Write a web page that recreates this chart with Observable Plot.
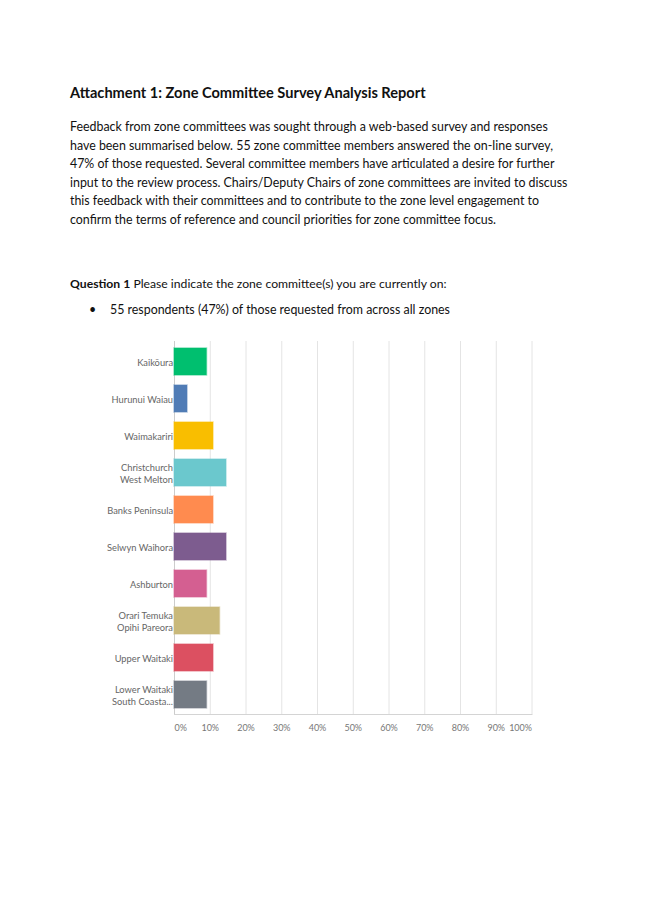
<!DOCTYPE html>
<html>
<head>
<meta charset="utf-8">
<script src="https://cdn.jsdelivr.net/npm/d3@7"></script>
<script src="https://cdn.jsdelivr.net/npm/@observablehq/plot@0.6"></script>
<style>
  html, body { margin: 0; padding: 0; background: #fff; }
  body { width: 645px; height: 919px; position: relative; overflow: hidden; font-family: Lato, "Open Sans", sans-serif; color: #111; }
  .t { position: absolute; white-space: nowrap; }
  #title { left: 70px; top: 84px; font-weight: 700; font-size: 14.6px; }
  #body { left: 70px; top: 118px; font-size: 12.4px; line-height: 18.5px; }
  #q1 { left: 70px; top: 276px; font-size: 12.2px; }
  #bullet { left: 110px; top: 302px; font-size: 12.4px; }
  #dot { left: 89px; top: 302px; font-size: 12.4px; }
  #chart { position: absolute; left: 100px; top: 330px; }
</style>
</head>
<body>
<div class="t" id="title">Attachment 1: Zone Committee Survey Analysis Report</div>
<div class="t" id="body">Feedback from zone committees was sought through a web-based survey and responses<br>have been summarised below. 55 zone committee members answered the on-line survey,<br>47% of those requested. Several committee members have articulated a desire for further<br>input to the review process. Chairs/Deputy Chairs of zone committees are invited to discuss<br>this feedback with their committees and to contribute to the zone level engagement to<br>confirm the terms of reference and council priorities for zone committee focus.</div>
<div class="t" id="q1"><b>Question 1</b> Please indicate the zone committee(s) you are currently on:</div>
<div class="t" id="dot">•</div>
<div class="t" id="bullet">55 respondents (47%) of those requested from across all zones</div>
<div id="chart"></div>
<script>
const zones = ["Kaikōura", "Hurunui Waiau", "Waimakariri", "Christchurch West Melton", "Banks Peninsula", "Selwyn Waihora", "Ashburton", "Orari Temuka Opihi Pareora", "Upper Waitaki", "Lower Waitaki South Coastal Canterbury"];
const zoneLabels = ["Kaikōura", "Hurunui Waiau", "Waimakariri", "Christchurch\nWest Melton", "Banks Peninsula", "Selwyn Waihora", "Ashburton", "Orari Temuka\nOpihi Pareora", "Upper Waitaki", "Lower Waitaki\nSouth Coasta..."];
const percents = [9.09, 3.64, 10.91, 14.55, 10.91, 14.55, 9.09, 12.73, 10.91, 9.09];
const colors = ["#00bf6f", "#507cb6", "#f9be00", "#6bc8cd", "#ff8b4f", "#7d5c8f", "#d45f91", "#c9b97a", "#dc5061", "#747b84"];
const xTicks = [0, 10, 20, 30, 40, 50, 60, 70, 80, 90, 100];

const data = zones.map((z, i) => ({zone: z, pct: percents[i]}));
const labelOf = new Map(zones.map((z, i) => [z, zoneLabels[i]]));
const fmt = d => d + "%";

const chart = Plot.plot({
  width: 450,
  height: 420,
  marginLeft: 74,
  marginRight: 18.5,
  marginTop: 11,
  marginBottom: 36,
  style: {fontFamily: "Lato, 'Open Sans', sans-serif", fontSize: "9px", color: "#6b6b6b", background: "transparent"},
  x: {domain: [0, 100], label: null},
  y: {domain: zones, paddingInner: 0.28, paddingOuter: 0.14, label: null},
  color: {domain: zones, range: colors},
  marks: [
    Plot.gridX(xTicks.slice(1), {stroke: "#e4e4e4", strokeOpacity: 1}),
    Plot.ruleX([0], {stroke: "#cccccc"}),
    Plot.frame({anchor: "bottom", stroke: "#d4d4d4"}),
    Plot.barX(data, {x: "pct", y: "zone", fill: "zone", stroke: "zone", strokeOpacity: 0.45, strokeWidth: 1.5, inset: 0}),
    Plot.axisY({tickSize: 0, tickPadding: 1.5, tickFormat: z => labelOf.get(z), lineHeight: 1.3, fill: "#666", label: null, fontSize: 9.3, letterSpacing: 0.3}),
    Plot.axisX({ticks: [xTicks[0]], tickSize: 0, tickPadding: 10, tickFormat: fmt, textAnchor: "start", fill: "#777", label: null, letterSpacing: 0.3}),
    Plot.axisX({ticks: xTicks.slice(1, -1), tickSize: 0, tickPadding: 10, tickFormat: fmt, fill: "#777", label: null, letterSpacing: 0.3}),
    Plot.axisX({ticks: [xTicks[xTicks.length - 1]], tickSize: 0, tickPadding: 10, tickFormat: fmt, textAnchor: "end", fill: "#777", label: null, letterSpacing: 0.3})
  ]
});
document.getElementById("chart").appendChild(chart);
</script>
</body>
</html>
